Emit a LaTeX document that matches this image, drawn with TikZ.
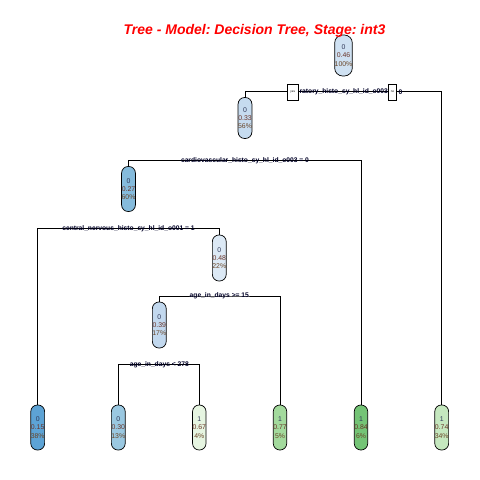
\documentclass[tikz,border=0pt]{standalone}
\usepackage{fontspec}
\setmainfont{Liberation Sans}
\usetikzlibrary{positioning}
\frenchspacing

\definecolor{cA}{HTML}{CFE1F2}
\definecolor{cB}{HTML}{C6DBEF}
\definecolor{cC}{HTML}{85BBDC}
\definecolor{cD}{HTML}{DCE9F5}
\definecolor{cE}{HTML}{C2D8EE}
\definecolor{cF}{HTML}{5DA3D5}
\definecolor{cG}{HTML}{9AC8E1}
\definecolor{cH}{HTML}{E6F5E1}
\definecolor{cI}{HTML}{A3DA9D}
\definecolor{cJ}{HTML}{74C476}
\definecolor{cK}{HTML}{C5E8BF}
\newcommand{\tri}[3]{\textcolor[HTML]{303858}{#1}\\\textcolor[HTML]{6A3428}{#2}\\\textcolor[HTML]{6A4628}{#3}}

\begin{document}
\begin{tikzpicture}[x=1pt,y=-1pt,
    box/.style={draw,line width=0.7pt,rounded corners=6.5pt,minimum width=13pt,
      minimum height=45pt,inner sep=0pt,align=center,
      font=\fontsize{6.9}{8.3}\selectfont},
    splitlabel/.style={inner sep=0pt,text=black!85!blue,font=\fontsize{6.7}{8}\selectfont\bfseries},
    yesno/.style={draw,fill=white,line width=0.6pt,inner sep=0pt,
      minimum height=15.5pt,font=\fontsize{3}{3}\selectfont}]
		\useasboundingbox (0,0) rectangle (480,480);
		% nodes
		\node[box,fill=cA,minimum width=16pt,minimum height=41pt,rounded corners=8pt] (n1) at (343.5,55.5) {\tri{0}{0.46}{100\%}};
		\node[box,fill=cB,minimum height=41pt] (n2) at (245,118) {\tri{0}{0.33}{56\%}};
		\node[box,fill=cC] (n4) at (128.5,189) {\tri{0}{0.27}{60\%}};
		\node[box,fill=cD,minimum height=46pt] (n9) at (219.3,258) {\tri{0}{0.48}{22\%}};
		\node[box,fill=cE,minimum height=46pt] (n18) at (159.3,325) {\tri{0}{0.39}{17\%}};
		\node[box,fill=cF] (l8) at (37.7,427.5) {\tri{0}{0.15}{38\%}};
		\node[box,fill=cG] (l36) at (118.3,427.5) {\tri{0}{0.30}{13\%}};
		\node[box,fill=cH] (l37) at (199.3,427.5) {\tri{1}{0.67}{4\%}};
		\node[box,fill=cI] (l19) at (280,427.5) {\tri{1}{0.77}{5\%}};
		\node[box,fill=cJ] (l5) at (361,427.5) {\tri{1}{0.84}{6\%}};
		\node[box,fill=cK] (l3) at (441.7,427.5) {\tri{1}{0.74}{34\%}};
		% split levels
		\coordinate (s1) at (343.5,91.7);
		\coordinate (s2) at (245,160.7);
		\coordinate (s3) at (128.5,228.3);
		\coordinate (s4) at (219.3,296);
		\coordinate (s5) at (159.3,364.3);
		\draw[line width=0.7pt] (n2.north) |- (s1) -| (l3.north);
		\draw[line width=0.7pt] (n4.north) |- (s2) -| (l5.north);
		\draw[line width=0.7pt] (l8.north) |- (s3) -| (n9.north);
		\draw[line width=0.7pt] (n18.north) |- (s4) -| (l19.north);
		\draw[line width=0.7pt] (l36.north) |- (s5) -| (l37.north);
		\node[yesno,minimum width=11pt] (yes) at (292.8,92.2) {yes};
		\node[yesno,minimum width=8.4pt] (no) at (392.5,92.2) {no};
		\node[splitlabel,anchor=west] (t1) at ([xshift=0.8pt]yes.east|-s1) {ratory\_histo\_sy\_hl\_id\_o003};
		\node[splitlabel,anchor=west] (t1b) at ([xshift=1.5pt]no.east|-s1) {0};
		\node[splitlabel] (t2) at (s2) {cardiovascular\_histo\_sy\_hl\_id\_o003 = 0};
		\node[splitlabel] (t3) at (s3) {central\_nervous\_histo\_sy\_hl\_id\_o001 = 1};
		\node[splitlabel] (t4) at (s4) {age\_in\_days >= 15};
		\node[splitlabel] (t5) at (s5) {age\_in\_days < 278};
		% title
		\node[text=red,font=\fontsize{14}{14}\selectfont\bfseries\itshape] (title) at (254.5,31) {Tree - Model: Decision Tree, Stage: int3};
	\end{tikzpicture}
\end{document}
